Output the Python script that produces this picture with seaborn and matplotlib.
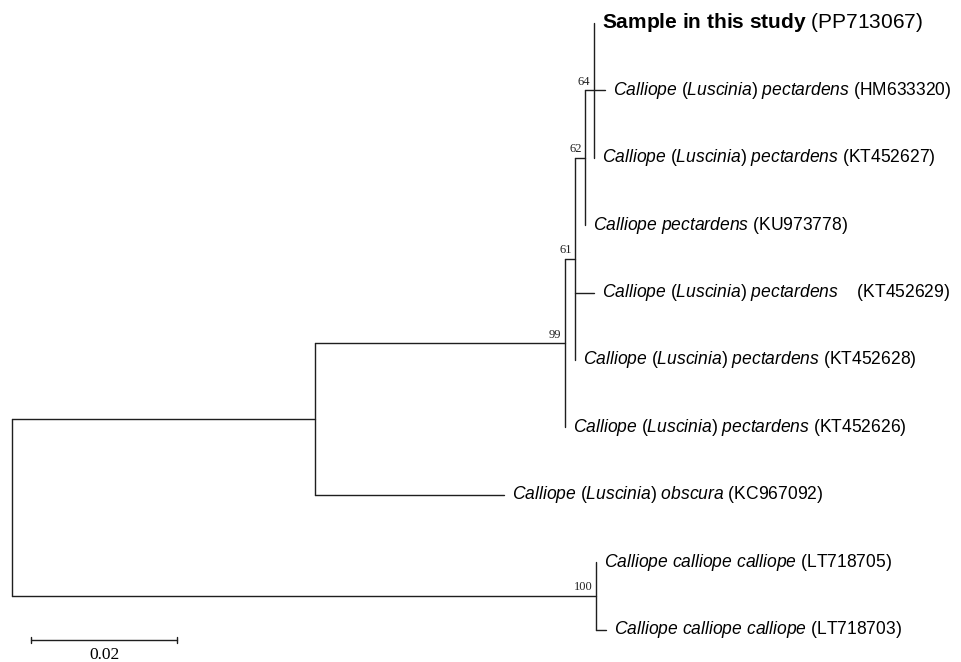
import numpy as np
import pandas as pd
import matplotlib
matplotlib.use("Agg")
import matplotlib.pyplot as plt
import seaborn as sns

# tree topology: node name, parent, branch length (substitutions/site)
node_names = ["root", "n1", "n99", "n61", "n62", "n64", "n100",
              "PP713067", "HM633320", "KT452627", "KU973778", "KT452629",
              "KT452628", "KT452626", "KC967092", "LT718705", "LT718703"]
node_parents = [None, "root", "n1", "n99", "n61", "n62", "root",
                "n64", "n64", "n64", "n62", "n61",
                "n61", "n99", "n1", "n100", "n100"]
branch_lengths = [0.0, 0.0417, 0.0342, 0.0014, 0.0014, 0.0012, 0.0802,
                  0.0, 0.0015, 0.0, 0.0, 0.0026,
                  0.0, 0.0, 0.0259, 0.0, 0.0014]

# tips in display order (top to bottom) and their labels
tip_order = ["PP713067", "HM633320", "KT452627", "KU973778", "KT452629",
             "KT452628", "KT452626", "KC967092", "LT718705", "LT718703"]
tip_labels = [
    r"$\mathbf{Sample\ in\ this\ study}$ (PP713067)",
    r"$\mathit{Calliope}$ ($\mathit{Luscinia}$) $\mathit{pectardens}$ (HM633320)",
    r"$\mathit{Calliope}$ ($\mathit{Luscinia}$) $\mathit{pectardens}$ (KT452627)",
    r"$\mathit{Calliope\ pectardens}$ (KU973778)",
    r"$\mathit{Calliope}$ ($\mathit{Luscinia}$) $\mathit{pectardens}\ \ \ $ (KT452629)",
    r"$\mathit{Calliope}$ ($\mathit{Luscinia}$) $\mathit{pectardens}$ (KT452628)",
    r"$\mathit{Calliope}$ ($\mathit{Luscinia}$) $\mathit{pectardens}$ (KT452626)",
    r"$\mathit{Calliope}$ ($\mathit{Luscinia}$) $\mathit{obscura}$ (KC967092)",
    r"$\mathit{Calliope\ calliope\ calliope}$ (LT718705)",
    r"$\mathit{Calliope\ calliope\ calliope}$ (LT718703)",
]

# bootstrap support
bootstrap_nodes = ["n64", "n62", "n61", "n99", "n100"]
bootstrap_values = [64, 62, 61, 99, 100]

scale_bar_length = 0.02

sns.set_theme(style="white")
plt.rcParams["font.family"] = ["Liberation Sans", "DejaVu Sans"]
plt.rcParams["mathtext.fontset"] = "custom"
plt.rcParams["mathtext.rm"] = "Liberation Sans"
plt.rcParams["mathtext.it"] = "Liberation Sans:italic"
plt.rcParams["mathtext.bf"] = "Liberation Sans:bold"

# node coordinates
parent_of = dict(zip(node_names, node_parents))
length_of = dict(zip(node_names, branch_lengths))
children = {n: [] for n in node_names}
for n, p in zip(node_names, node_parents):
    if p is not None:
        children[p].append(n)

xpos = {}
def get_x(n):
    if n not in xpos:
        p = parent_of[n]
        xpos[n] = 0.0 if p is None else get_x(p) + length_of[n]
    return xpos[n]

ypos = {t: i for i, t in enumerate(tip_order)}
def get_y(n):
    if n not in ypos:
        ys = [get_y(c) for c in children[n]]
        ypos[n] = (min(ys) + max(ys)) / 2
    return ypos[n]

for n in node_names:
    get_x(n)
    get_y(n)

# segments of the rectangular tree
rows = []
seg = 0
for n in node_names:
    p = parent_of[n]
    if p is not None and length_of[n] > 0:
        rows += [(xpos[p], ypos[n], seg), (xpos[n], ypos[n], seg)]
        seg += 1
    if children[n]:
        ys = [ypos[c] for c in children[n]]
        rows += [(xpos[n], min(ys), seg), (xpos[n], max(ys), seg)]
        seg += 1
seg_df = pd.DataFrame(rows, columns=["x", "y", "seg"])

fig = plt.figure(figsize=(9.61, 6.62), dpi=100)
ax = fig.add_axes([0, 0, 1, 1])

sns.lineplot(data=seg_df, x="x", y="y", units="seg", estimator=None, sort=False,
             color="#1e1e1e", linewidth=1.0, legend=False, ax=ax)

# pixel scale of the original figure
px_per_unit = 7290.0
x0_px, y0_px, row_px = 11.5, 23.0, 67.4
ax.set_xlim(-x0_px / px_per_unit, (961 - x0_px) / px_per_unit)
ax.set_ylim((662 - y0_px) / row_px, -y0_px / row_px)
ax.axis("off")

# tip labels
for t, lab in zip(tip_order, tip_labels):
    size = 15 if t == "PP713067" else 12.65
    ax.annotate(lab, xy=(xpos[t], ypos[t]), xytext=(5.8, 0),
                textcoords="offset points", ha="left", va="center",
                fontsize=size, color="black")

# bootstrap values
for n, v in zip(bootstrap_nodes, bootstrap_values):
    ax.annotate(str(v), xy=(xpos[n], ypos[n]), xytext=(-2.5, 4),
                textcoords="offset points", ha="right", va="baseline",
                fontsize=9, family="Liberation Serif", color="#222222")

# scale bar
sb_x0 = (31.4 - x0_px) / px_per_unit
sb_y = (640.0 - y0_px) / row_px
tick = 3.3 / row_px
ax.plot([sb_x0, sb_x0 + scale_bar_length], [sb_y, sb_y], color="#1e1e1e", lw=1.0)
for xe in (sb_x0, sb_x0 + scale_bar_length):
    ax.plot([xe, xe], [sb_y - tick, sb_y + tick], color="#1e1e1e", lw=1.0)
ax.annotate(f"{scale_bar_length:.2f}", xy=(sb_x0 + scale_bar_length / 2, sb_y),
            xytext=(0, -13.8), textcoords="offset points", ha="center", va="baseline",
            fontsize=12.5, family="Liberation Serif", color="black")

fig.savefig("out.png", dpi=100)
